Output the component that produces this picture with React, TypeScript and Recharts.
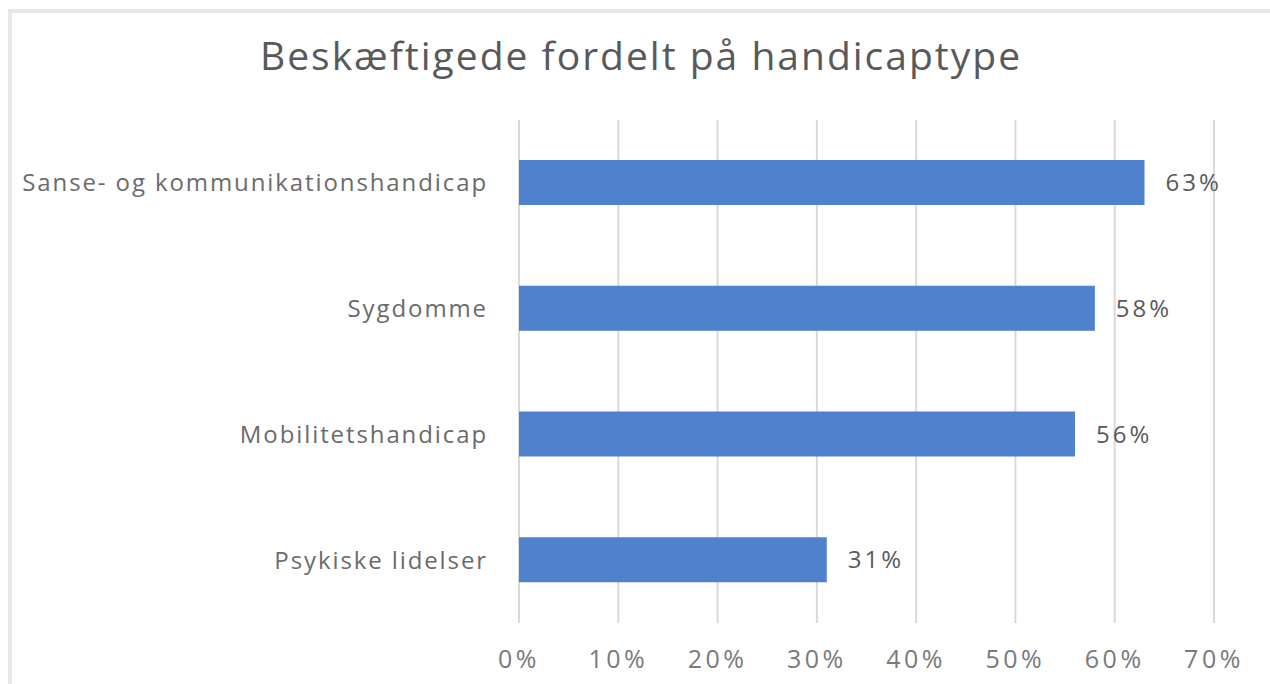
import { BarChart, Bar, XAxis, YAxis, CartesianGrid, LabelList } from "recharts";

const categories = [
  "Sanse- og kommunikationshandicap",
  "Sygdomme",
  "Mobilitetshandicap",
  "Psykiske lidelser",
];
const shares = [0.63, 0.58, 0.56, 0.31];
const xTicks = [0, 0.1, 0.2, 0.3, 0.4, 0.5, 0.6, 0.7];

const data = categories.map((name, i) => ({ name, value: shares[i] }));

const pct = (v: number) => `${Math.round(v * 100)}%`;
const font = "'Open Sans', 'Noto Sans', sans-serif";

export default function App() {
  return (
    <div style={{ position: "absolute", left: 0, top: 0, width: 1270, height: 684, overflow: "hidden", background: "#fff", fontFamily: font }}>
      <div style={{ position: "absolute", left: 8, top: 9, width: 1300, height: 720, border: "4px solid #e8e8e8", boxSizing: "border-box" }} />
      <div style={{ position: "absolute", left: 0, top: 28, width: 1282, textAlign: "center", fontSize: 39, letterSpacing: 2, color: "#595959", whiteSpace: "nowrap" }}>
        Beskæftigede fordelt på handicaptype
      </div>
      <div style={{ position: "absolute", left: 0, top: 0 }}>
        <BarChart
          width={1270}
          height={684}
          data={data}
          layout="vertical"
          margin={{ top: 120, right: 56, bottom: 0, left: 0 }}
          barCategoryGap={0}
        >
          <CartesianGrid horizontal={false} stroke="#d9d9d9" strokeWidth={2} />
          <XAxis
            type="number"
            domain={[0, 0.7]}
            ticks={xTicks}
            tickFormatter={pct}
            axisLine={false}
            tickLine={false}
            height={61}
            tickMargin={21}
            tick={{ fontSize: 25, fill: "#7a7a7a", fontFamily: font, letterSpacing: 3.5 }}
          />
          <YAxis
            type="category"
            dataKey="name"
            width={519}
            axisLine={false}
            tickLine={false}
            tickMargin={25}
            tick={{ fontSize: 24, fill: "#6b6b6b", fontFamily: font, letterSpacing: 1.9 }}
          />
          <Bar dataKey="value" fill="#4f81cd" barSize={45} isAnimationActive={false}>
            <LabelList
              dataKey="value"
              position="right"
              offset={21}
              formatter={(v: any) => pct(Number(v))}
              style={{ fontSize: 24, fill: "#595959", fontFamily: font, letterSpacing: 3 }}
            />
          </Bar>
        </BarChart>
      </div>
    </div>
  );
}
